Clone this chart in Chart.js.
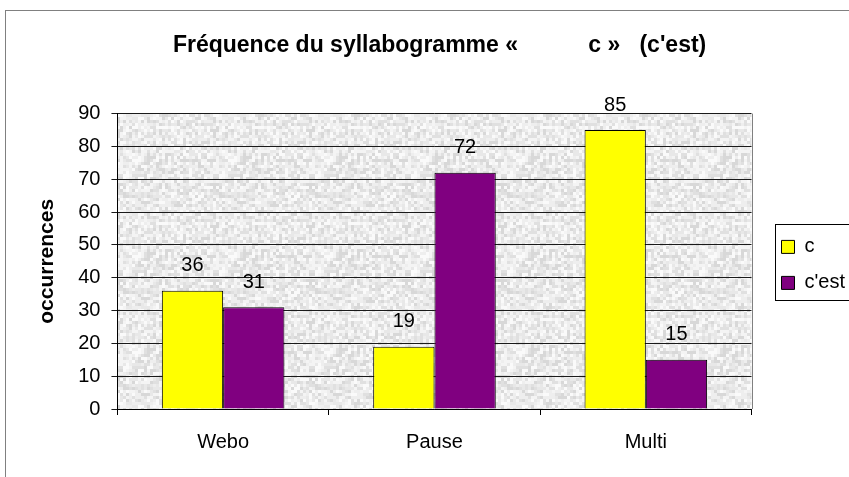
<!DOCTYPE html>
<html>
<head>
<meta charset="utf-8">
<script src="https://cdn.jsdelivr.net/npm/chart.js@4.4.1/dist/chart.umd.min.js"></script>
<style>
  html, body { margin: 0; padding: 0; background: #fff; }
  #wrap { width: 849px; height: 477px; }
</style>
</head>
<body>
<div id="wrap"><canvas id="chart" width="849" height="477"></canvas></div>
<script>
// Chart data
const categories = ['Webo', 'Pause', 'Multi'];
const seriesNames = ['c', "c'est"];
const valuesC = [36, 19, 85];
const valuesCest = [31, 72, 15];
const yMin = 0;
const yMax = 90;
const yStep = 10;

const FONT = "'Liberation Sans', Arial, sans-serif";

// grey speckled plot background (decorative, fixed seeded pattern)
function makeTexture(ctx) {
  const size = 96;
  const c = document.createElement('canvas');
  c.width = size; c.height = size;
  const g = c.getContext('2d');
  g.fillStyle = '#ececec';
  g.fillRect(0, 0, size, size);
  const shades = ['#fafafa', '#f4f4f4', '#eeeeee', '#e8e8e8', '#e0e0e0', '#d8d8d8'];
  let seed = 12345;
  const next = () => { seed = (Math.imul(seed, 1103515245) + 12345) >>> 0; return seed >>> 16; };
  for (let y = 0; y < size; y += 3) {
    for (let x = 0; x < size; x += 3) {
      g.fillStyle = shades[next() % shades.length];
      g.fillRect(x, y, 3, 3);
    }
  }
  return ctx.createPattern(c, 'repeat');
}

const framePlugin = {
  id: 'frame',
  beforeDraw(chart) {
    const { ctx, chartArea: a } = chart;
    ctx.save();
    ctx.strokeStyle = '#808080';
    ctx.lineWidth = 1;
    ctx.strokeRect(5.5, 10.5, 900, 600);
    ctx.fillStyle = makeTexture(ctx);
    ctx.fillRect(a.left, a.top, a.right - a.left, a.bottom - a.top);
    ctx.restore();
  },
  afterDraw(chart) {
    const { ctx, chartArea: a } = chart;
    ctx.save();
    ctx.strokeStyle = '#808080';
    ctx.lineWidth = 1;
    ctx.beginPath();
    ctx.moveTo(Math.round(a.right) + 0.5, a.top);
    ctx.lineTo(Math.round(a.right) + 0.5, a.bottom);
    ctx.stroke();
    // legend frame
    const boxes = chart.legend.legendHitBoxes;
    if (boxes && boxes.length) {
      const first = boxes[0], last = boxes[boxes.length - 1];
      const l = Math.round(first.left - 7) + 0.5;
      const t = Math.round(first.top - 13) + 0.5;
      const b = Math.round(last.top + last.height + 7) + 0.5;
      ctx.strokeStyle = '#000';
      ctx.strokeRect(l, t, 900, b - t);
    }
    ctx.restore();
  }
};

const valueLabels = {
  id: 'valueLabels',
  afterDatasetsDraw(chart) {
    const { ctx } = chart;
    ctx.save();
    ctx.font = '20px ' + FONT;
    ctx.fillStyle = '#000';
    ctx.textAlign = 'center';
    ctx.textBaseline = 'middle';
    chart.data.datasets.forEach((ds, i) => {
      chart.getDatasetMeta(i).data.forEach((bar, j) => {
        ctx.fillText(String(ds.data[j]), bar.x, bar.y - 25);
      });
    });
    ctx.restore();
  }
};

new Chart(document.getElementById('chart'), {
  type: 'bar',
  data: {
    labels: categories,
    datasets: [
      { label: seriesNames[0], data: valuesC, backgroundColor: '#ffff00', borderColor: '#000', borderWidth: 1,
        categoryPercentage: 0.58, barPercentage: 1.0 },
      { label: seriesNames[1], data: valuesCest, backgroundColor: '#800080', borderColor: '#000', borderWidth: 1,
        categoryPercentage: 0.58, barPercentage: 1.0 }
    ]
  },
  options: {
    responsive: false,
    animation: false,
    layout: { padding: { left: 5, right: -6, top: 10, bottom: 8 } },
    plugins: {
      title: {
        display: true,
        text: '   Fréquence du syllabogramme «           c »   (c\'est)',
        color: '#000',
        font: { family: FONT, size: 23, weight: 'bold' },
        padding: { top: 22, bottom: 54 }
      },
      legend: {
        position: 'right',
        fullSize: false,
        title: { display: true, text: ' ', font: { size: 6 }, padding: { top: 0, bottom: 0 } },
        labels: {
          color: '#000',
          font: { family: FONT, size: 20 },
          boxWidth: 13,
          boxHeight: 13,
          padding: 16
        }
      },
      tooltip: { enabled: false }
    },
    scales: {
      x: {
        grid: { drawOnChartArea: false, drawTicks: true, tickLength: 6, color: '#000' },
        border: { color: '#000' },
        ticks: { color: '#000', font: { family: FONT, size: 20 }, padding: 15 }
      },
      y: {
        min: yMin,
        max: yMax,
        grid: { color: '#1a1a1a', tickLength: 6 },
        border: { color: '#000' },
        ticks: { stepSize: yStep, color: '#000', font: { family: FONT, size: 20 }, padding: 11 },
        title: {
          display: true,
          text: 'occurrences',
          color: '#000',
          font: { family: FONT, size: 21, weight: 'bold' },
          padding: { top: 30, bottom: 7 }
        }
      },
      gap: {
        type: 'linear',
        position: 'right',
        display: true,
        grid: { display: false, drawTicks: false },
        border: { display: false },
        ticks: { display: false },
        afterFit(scale) { scale.width = 14; }
      }
    }
  },
  plugins: [framePlugin, valueLabels]
});
</script>
</body>
</html>
